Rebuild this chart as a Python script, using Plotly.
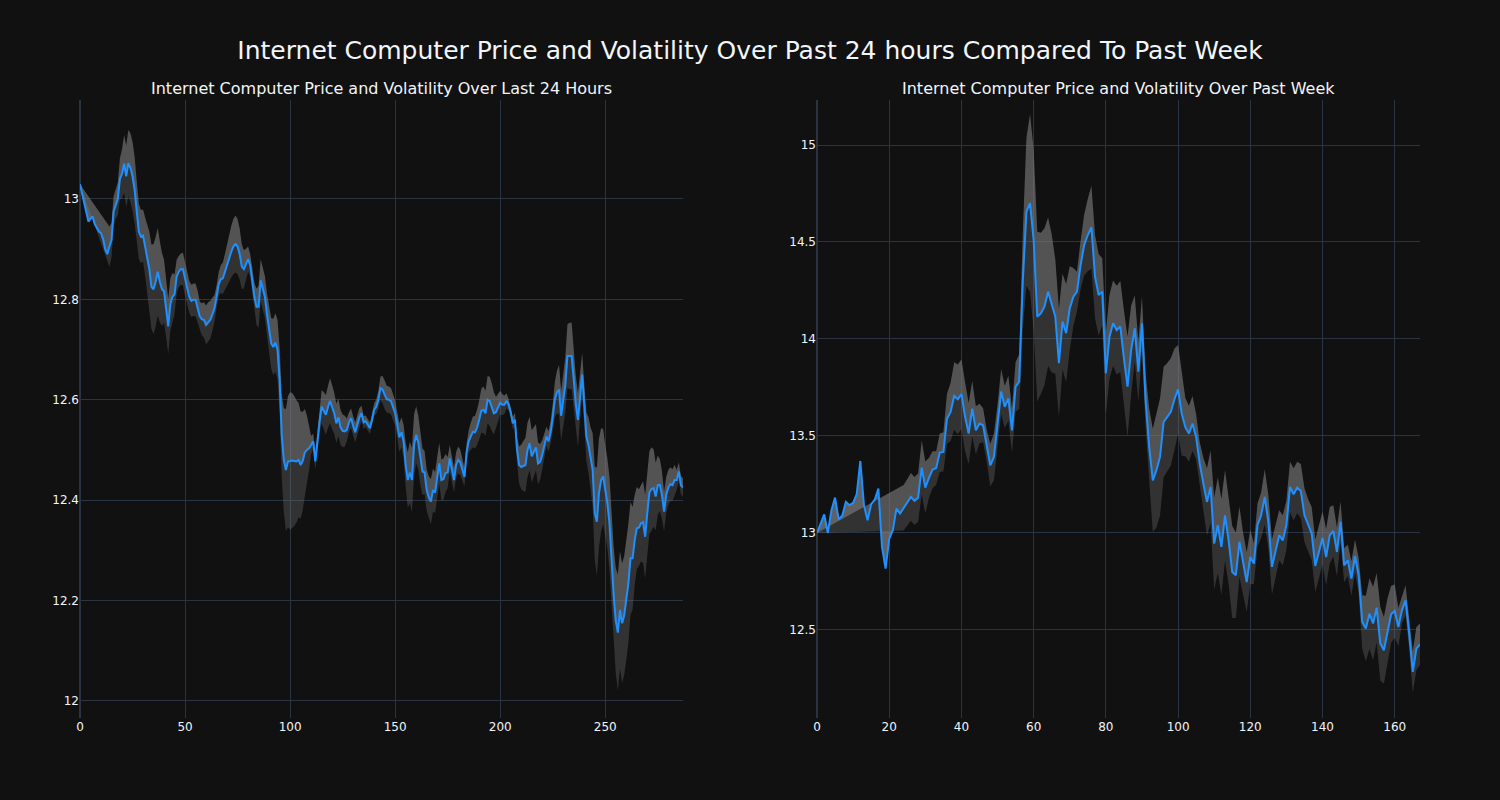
import numpy as np
import pandas as pd
import plotly.graph_objects as go
from plotly.subplots import make_subplots

# ---- data ----
price_24h = [
    13.029, 13.01, 12.995, 12.975, 12.955, 12.96, 12.965, 12.95, 12.942, 12.935,
    12.932, 12.92, 12.90, 12.89, 12.905, 12.918, 12.975, 12.99, 13.00, 13.04,
    13.05, 13.07, 13.045, 13.071, 13.062, 13.045, 13.018, 12.975, 12.935, 12.925,
    12.927, 12.905, 12.88, 12.86, 12.825, 12.82, 12.835, 12.855, 12.835, 12.82,
    12.816, 12.78, 12.746, 12.79, 12.805, 12.81, 12.845, 12.855, 12.86, 12.86,
    12.84, 12.82, 12.805, 12.797, 12.799, 12.799, 12.785, 12.766, 12.76, 12.759,
    12.749, 12.755, 12.759, 12.77, 12.782, 12.805, 12.83, 12.84, 12.842, 12.855,
    12.87, 12.882, 12.895, 12.905, 12.91, 12.905, 12.89, 12.865, 12.86, 12.87,
    12.88, 12.868, 12.835, 12.805, 12.785, 12.785, 12.838, 12.82, 12.805, 12.77,
    12.74, 12.712, 12.705, 12.714, 12.70, 12.64, 12.53, 12.48, 12.46, 12.477,
    12.478, 12.479, 12.478, 12.477, 12.48, 12.47, 12.478, 12.495, 12.50, 12.503,
    12.51, 12.517, 12.477, 12.52, 12.555, 12.586, 12.578, 12.57, 12.585, 12.598,
    12.585, 12.573, 12.553, 12.565, 12.545, 12.538, 12.537, 12.54, 12.555, 12.563,
    12.548, 12.535, 12.55, 12.565, 12.573, 12.555, 12.557, 12.55, 12.543, 12.56,
    12.58, 12.586, 12.60, 12.623, 12.62, 12.61, 12.601, 12.60, 12.597, 12.585,
    12.573, 12.55, 12.525, 12.535, 12.517, 12.47, 12.44, 12.455, 12.44, 12.51,
    12.53, 12.515, 12.48, 12.457, 12.455, 12.42, 12.405, 12.397, 12.42, 12.415,
    12.445, 12.473, 12.44, 12.442, 12.454, 12.455, 12.483, 12.46, 12.44, 12.47,
    12.48, 12.475, 12.46, 12.446, 12.495, 12.517, 12.527, 12.536, 12.535, 12.545,
    12.56, 12.578, 12.58, 12.573, 12.60, 12.597, 12.585, 12.573, 12.575, 12.585,
    12.594, 12.59, 12.59, 12.598, 12.59, 12.575, 12.553, 12.56, 12.50, 12.47,
    12.466, 12.468, 12.47, 12.50, 12.513, 12.487, 12.495, 12.505, 12.473, 12.476,
    12.49, 12.51, 12.527, 12.517, 12.535, 12.565, 12.60, 12.615, 12.62, 12.568,
    12.60, 12.63, 12.687, 12.687, 12.687, 12.64, 12.59, 12.56, 12.61, 12.65,
    12.59, 12.527, 12.51, 12.48, 12.46, 12.374, 12.357, 12.414, 12.44, 12.447,
    12.42, 12.394, 12.354, 12.28, 12.21, 12.16, 12.136, 12.181, 12.155, 12.17,
    12.20, 12.234, 12.284, 12.284, 12.32, 12.344, 12.345, 12.354, 12.356, 12.327,
    12.374, 12.415, 12.422, 12.424, 12.407, 12.43, 12.43, 12.41, 12.377, 12.41,
    12.425, 12.432, 12.43, 12.44, 12.44, 12.457, 12.43, 12.425,
]

price_week = [
    13.0, 13.05, 13.096, 13.0, 13.117, 13.182, 13.07, 13.09, 13.16, 13.143,
    13.155, 13.2, 13.371, 13.143, 13.065, 13.148, 13.172, 13.229, 12.928, 12.816,
    12.97, 13.014, 13.125, 13.1, 13.13, 13.158, 13.186, 13.165, 13.182, 13.337,
    13.234, 13.284, 13.326, 13.335, 13.414, 13.418, 13.589, 13.624, 13.706, 13.689,
    13.716, 13.60, 13.512, 13.641, 13.529, 13.564, 13.555, 13.45, 13.349, 13.392,
    13.55, 13.729, 13.65, 13.694, 13.529, 13.754, 13.78, 14.30, 14.656, 14.70,
    14.51, 14.115, 14.132, 14.167, 14.244, 14.184, 14.115, 13.875, 14.09, 14.03,
    14.158, 14.218, 14.244, 14.381, 14.485, 14.536, 14.576, 14.321, 14.227, 14.244,
    13.823, 14.012, 14.081, 14.046, 14.064, 13.90, 13.754, 13.943, 14.055, 13.832,
    14.081, 13.684, 13.443, 13.271, 13.323, 13.392, 13.572, 13.598, 13.624, 13.69,
    13.74, 13.615, 13.546, 13.512, 13.564, 13.495, 13.357, 13.254, 13.16, 13.237,
    12.945, 13.04, 12.928, 13.091, 12.962, 12.799, 12.782, 12.954, 12.842, 12.747,
    12.876, 12.842, 13.04, 13.091, 13.186, 13.057, 12.825, 12.902, 12.988, 12.962,
    13.04, 13.237, 13.199, 13.234, 13.216, 13.091, 13.04, 12.997, 12.83, 12.902,
    12.974, 12.876, 12.988, 13.01, 12.902, 13.057, 12.833, 12.859, 12.765, 12.88,
    12.782, 12.541, 12.507, 12.584, 12.533, 12.615, 12.43, 12.395, 12.498, 12.581,
    12.598, 12.515, 12.601, 12.653, 12.481, 12.284, 12.404, 12.426,
]

# rolling-std window and first index at which the band is drawn
window_24h, band_start_24h = 15, 14
window_week, band_start_week = 12, 24

main_title = "Internet Computer Price and Volatility Over Past 24 hours Compared To Past Week"
sub_titles = ["Internet Computer Price and Volatility Over Last 24 Hours",
              "Internet Computer Price and Volatility Over Past Week"]

LINE_COLOR = "#1E90FF"
UPPER_FILL = "rgba(128,128,128,0.6)"
LOWER_FILL = "rgba(128,128,128,0.3)"
FONT = "DejaVu Sans"

fig = make_subplots(rows=1, cols=2, subplot_titles=sub_titles, horizontal_spacing=0.1)


def add_panel(price, window, start, col):
    s = pd.Series(price, dtype=float)
    vol = s.rolling(window).std()
    x = np.arange(len(price))
    xv = x[start:]
    upper = (s + vol).to_numpy()[start:]
    lower = (s - vol).to_numpy()[start:]
    fig.add_trace(go.Scatter(x=xv, y=upper, mode="lines", line=dict(width=0),
                             showlegend=False, hoverinfo="skip"), row=1, col=col)
    fig.add_trace(go.Scatter(x=x, y=s.to_numpy(), mode="lines", line=dict(width=0),
                             fill="tonexty", fillcolor=UPPER_FILL,
                             showlegend=False, hoverinfo="skip"), row=1, col=col)
    fig.add_trace(go.Scatter(x=xv, y=lower, mode="lines", line=dict(width=0),
                             fill="tonexty", fillcolor=LOWER_FILL,
                             showlegend=False, hoverinfo="skip"), row=1, col=col)
    fig.add_trace(go.Scatter(x=x, y=s.to_numpy(), mode="lines",
                             line=dict(color=LINE_COLOR, width=2),
                             showlegend=False, name="Price"), row=1, col=col)


add_panel(price_24h, window_24h, band_start_24h, 1)
add_panel(price_week, window_week, band_start_week, 2)

fig.update_layout(
    template="plotly_dark",
    width=1500, height=800,
    margin=dict(l=80, r=80, t=100, b=82),
    font=dict(family=FONT),
    title=dict(text=main_title, x=0.5, xanchor="center", y=0.9375, yref="container",
               yanchor="middle", font=dict(size=25, family=FONT)),
    showlegend=False,
    paper_bgcolor="#111111", plot_bgcolor="#111111",
)
for ann in fig.layout.annotations:
    ann.font = dict(size=16, family=FONT)
fig.update_xaxes(range=[0, len(price_24h) - 1], row=1, col=1)
fig.update_xaxes(range=[0, len(price_week) - 1], row=1, col=2)
fig.update_yaxes(range=[11.966, 13.197], dtick=0.2, row=1, col=1)
fig.update_yaxes(range=[12.046, 15.232], dtick=0.5, row=1, col=2)

fig.write_html(
    "out.html",
    config={"displayModeBar": False},
    post_script="document.body.style.margin='0';document.body.style.background='#111111';",
)
